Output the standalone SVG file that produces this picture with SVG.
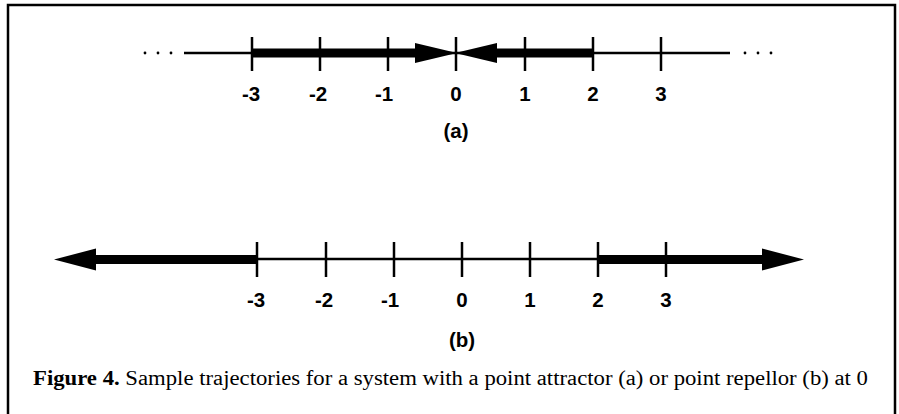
<svg xmlns="http://www.w3.org/2000/svg" width="899" height="414" viewBox="0 0 899 414">
<style>
.axis{stroke:#000;stroke-width:2.5;fill:none}
.thick{stroke:#000;stroke-width:9;fill:none}
.tick{stroke:#000;stroke-width:2.5}
.head{fill:#000}
.num{font-family:"Liberation Sans",Arial,sans-serif;font-size:20.5px;font-weight:bold;text-anchor:middle;fill:#000}
.dots{fill:#000}
.cap{font-family:"Liberation Serif","Times New Roman",serif;font-size:20px;fill:#000}
</style>
<rect width="899" height="414" fill="#fff"/>
<path d="M8,420 V5 H895 V420" fill="none" stroke="#000" stroke-width="2.5"/>
<g id="lineA">
<line class="axis" x1="184" y1="53" x2="730" y2="53"/>
<line class="thick" x1="252" y1="53" x2="420" y2="53"/>
<line class="thick" x1="494" y1="53" x2="593" y2="53"/>
<polygon class="head" points="415,43 457,53 415,63"/>
<polygon class="head" points="497,43 455,53 497,63"/>
<g class="tick">
<line x1="252" y1="37" x2="252" y2="71"/>
<line x1="320" y1="37" x2="320" y2="71"/>
<line x1="388" y1="37" x2="388" y2="71"/>
<line x1="456" y1="37" x2="456" y2="71"/>
<line x1="525" y1="37" x2="525" y2="71"/>
<line x1="593" y1="37" x2="593" y2="71"/>
<line x1="661" y1="37" x2="661" y2="71"/>
</g>
<g class="dots">
<circle cx="145" cy="53" r="1.4"/><circle cx="158" cy="53" r="1.4"/><circle cx="171" cy="53" r="1.4"/>
<circle cx="745" cy="53" r="1.4"/><circle cx="758" cy="53" r="1.4"/><circle cx="771" cy="53" r="1.4"/>
</g>
<text class="num" x="251" y="101">-3</text>
<text class="num" x="318" y="101">-2</text>
<text class="num" x="384" y="101">-1</text>
<text class="num" x="456" y="101">0</text>
<text class="num" x="525" y="101">1</text>
<text class="num" x="593" y="101">2</text>
<text class="num" x="661" y="101">3</text>
<text class="num" x="456" y="138">(a)</text>
</g>
<g id="lineB">
<line class="axis" x1="257" y1="259" x2="598" y2="259"/>
<line class="thick" x1="90" y1="259.5" x2="257" y2="259.5"/>
<line class="thick" x1="598" y1="259.5" x2="768" y2="259.5"/>
<polygon class="head" points="54,259.5 96,248.5 96,270.5"/>
<polygon class="head" points="804,259.5 762,248.5 762,270.5"/>
<g class="tick">
<line x1="257" y1="242" x2="257" y2="277"/>
<line x1="326" y1="242" x2="326" y2="277"/>
<line x1="394" y1="242" x2="394" y2="277"/>
<line x1="462" y1="242" x2="462" y2="277"/>
<line x1="530" y1="242" x2="530" y2="277"/>
<line x1="598" y1="242" x2="598" y2="277"/>
<line x1="666" y1="242" x2="666" y2="277"/>
</g>
<text class="num" x="256" y="307">-3</text>
<text class="num" x="324" y="307">-2</text>
<text class="num" x="390" y="307">-1</text>
<text class="num" x="462" y="307">0</text>
<text class="num" x="530" y="307">1</text>
<text class="num" x="598" y="307">2</text>
<text class="num" x="666" y="307">3</text>
<text class="num" x="462" y="347">(b)</text>
</g>
<text id="caption" class="cap" x="33" y="385" textLength="835" lengthAdjust="spacingAndGlyphs"><tspan font-weight="bold">Figure 4.</tspan> Sample trajectories for a system with a point attractor (a) or point repellor (b) at 0</text>
</svg>
